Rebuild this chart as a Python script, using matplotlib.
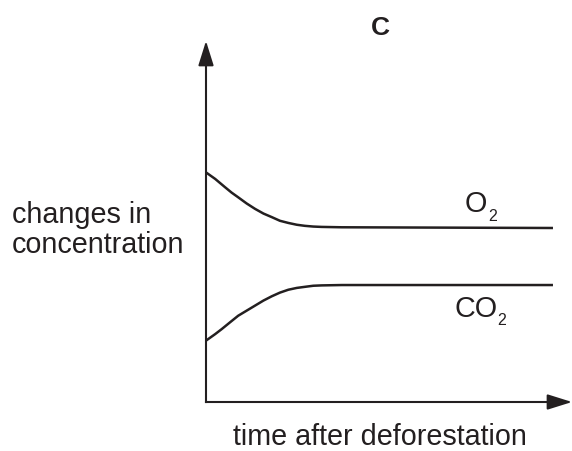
import matplotlib
matplotlib.use("Agg")
import matplotlib.pyplot as plt
from matplotlib.patches import FancyArrowPatch

plt.rcParams['font.family'] = ['Liberation Sans', 'DejaVu Sans']

# Data (arbitrary units)
time_o2 = [0.0, 0.25, 0.52, 0.70, 0.88, 1.11, 1.34, 1.57, 1.80, 2.02,
           2.25, 2.48, 2.70, 2.93, 3.16, 3.71, 9.48]
conc_o2 = [6.36, 6.18, 5.95, 5.80, 5.67, 5.50, 5.35, 5.22, 5.12, 5.02,
           4.96, 4.91, 4.88, 4.86, 4.85, 4.84, 4.82]
time_co2 = [0.0, 0.25, 0.43, 0.66, 0.88, 1.11, 1.34, 1.57, 1.80, 2.02,
            2.25, 2.48, 2.70, 2.93, 3.16, 3.71, 9.48]
conc_co2 = [1.70, 1.88, 2.02, 2.21, 2.39, 2.53, 2.67, 2.81, 2.93, 3.03,
            3.11, 3.16, 3.19, 3.22, 3.23, 3.24, 3.24]

title = "C"
ylabel_lines = ["changes in", "concentration"]
xlabel = "time after deforestation"

ink = "#231f20"
W, H = 572, 452
fig = plt.figure(figsize=(W / 100, H / 100), dpi=100)
ax = fig.add_axes([206 / W, 49 / H, 366 / W, 361 / H])
ax.set_xlim(0, 10)
ax.set_ylim(0, 10)
ax.axis("off")

for t, c in [(time_o2, conc_o2), (time_co2, conc_co2)]:
    ax.plot(t, c, color=ink, lw=1.8, solid_joinstyle="round",
            solid_capstyle="butt", clip_on=False)

# axes arrows
style = "-|>,head_length=15,head_width=4.7"
for end in [(1.0, 0.0), (0.0, 1.0)]:
    ar = FancyArrowPatch((0.0, 0.0), end, transform=ax.transAxes,
                         arrowstyle=style, mutation_scale=1,
                         shrinkA=0, shrinkB=0, lw=1.5, color=ink,
                         capstyle="projecting", clip_on=False)
    ax.add_patch(ar)

def ftext(x, y, s, **kw):
    fig.text(x / W, 1 - y / H, s, color=ink, va="baseline", **kw)

fs = 20.7
ftext(380, 35, title, ha="center", fontsize=19, fontweight="bold")
ftext(12, 223, ylabel_lines[0], ha="left", fontsize=fs)
ftext(12, 253, ylabel_lines[1], ha="left", fontsize=fs)
ftext(380, 445, xlabel, ha="center", fontsize=fs)

# series labels with subscripts
ftext(465, 212, "O", ha="left", fontsize=fs)
ftext(488, 221, "2", ha="left", fontsize=11.5)
ftext(454, 317, "CO", ha="left", fontsize=fs)
ftext(497, 325, "2", ha="left", fontsize=11.5)

fig.savefig("out.png", dpi=100)
